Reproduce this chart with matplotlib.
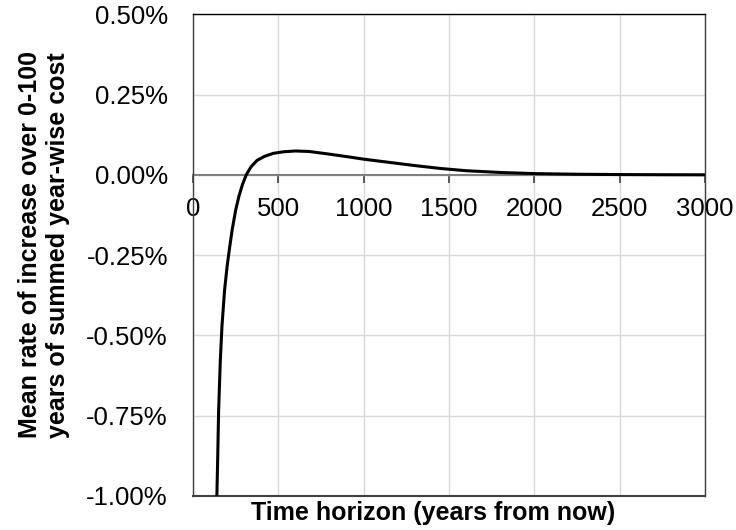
import matplotlib.pyplot as plt
from matplotlib.ticker import FuncFormatter, MultipleLocator

plt.rcParams['font.family'] = ['Liberation Sans', 'DejaVu Sans']

# mean rate of increase vs. time horizon (years), values in percent
horizon = [140, 145, 150, 160, 170, 185, 200, 215, 230, 250, 270, 290, 312,
           340, 375, 420, 470, 530, 600, 680, 780, 900, 1000, 1150, 1300,
           1450, 1600, 1800, 2000, 2250, 2500, 2750, 3000]
rate_pct = [-1.00, -0.88, -0.74, -0.58, -0.47, -0.36, -0.285, -0.225, -0.17,
            -0.11, -0.065, -0.03, 0.0, 0.025, 0.045, 0.058, 0.067, 0.072,
            0.0745, 0.073, 0.066, 0.057, 0.049, 0.039, 0.029, 0.020, 0.013,
            0.0075, 0.004, 0.002, 0.001, 0.0005, 0.0002]

fig = plt.figure(figsize=(7.36, 5.30), dpi=100)
ax = fig.add_axes([0.2622, 0.0647, 0.6957, 0.908])

ax.plot(horizon, rate_pct, color='black', lw=2.2, solid_capstyle='butt', zorder=3)

ax.set_xlim(0, 3000)
ax.set_ylim(-1.0, 0.5)
ax.xaxis.set_major_locator(MultipleLocator(500))
ax.yaxis.set_major_locator(MultipleLocator(0.25))
ax.yaxis.set_major_formatter(FuncFormatter(lambda v, p: f"{v:.2f}%"))
ax.grid(True, color='#d9d9d9', lw=1.0, zorder=0)
ax.set_axisbelow(True)

# x axis sits on the zero line, frame drawn around the plot area
ax.spines['bottom'].set_position(('data', 0))
ax.spines['bottom'].set_color('#808080')
ax.spines['bottom'].set_linewidth(1.5)
ax.spines['bottom'].set_zorder(2)
ax.spines['top'].set_color('black')
for side in ['left', 'right']:
    ax.spines[side].set_color('#404040')
for side in ['top', 'left', 'right']:
    ax.spines[side].set_linewidth(1.0)
ax.axhline(-1.0, color='#404040', lw=1.5, clip_on=False)

ax.tick_params(axis='x', direction='out', length=6, width=1.2, color='#404040',
               labelsize=18.5, pad=10)
ax.tick_params(axis='y', length=0, labelsize=18.5, pad=18)

ax.set_xlabel('Time horizon (years from now)', fontsize=18, fontweight='bold')
ax.xaxis.set_label_coords(0.469, -0.01)
ax.xaxis.label.set_verticalalignment('top')
ax.set_ylabel('Mean rate of increase over 0-100\nyears of summed year-wise cost',
              fontsize=18, fontweight='bold', linespacing=1.2)
ax.yaxis.set_label_coords(-0.240, 0.521)

fig.savefig('out.png', dpi=100)
